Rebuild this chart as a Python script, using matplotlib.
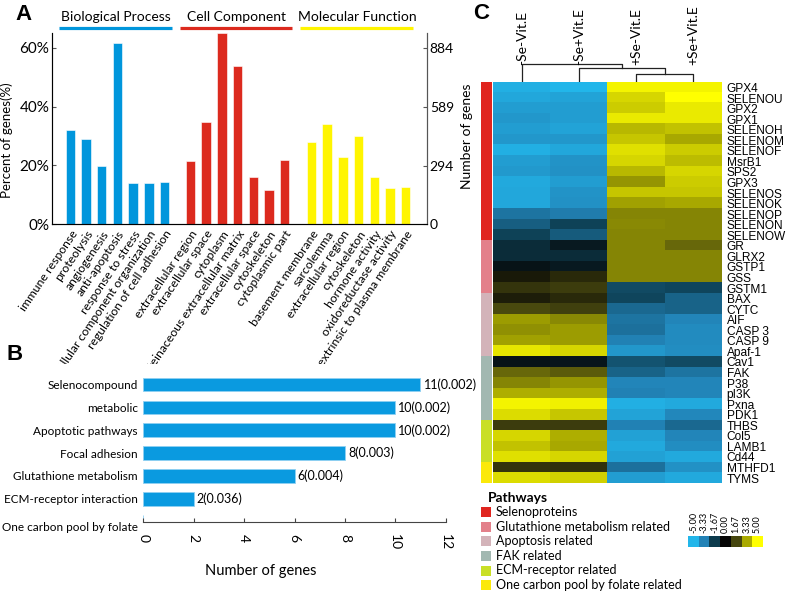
import numpy as np
import matplotlib
matplotlib.use("Agg")
import matplotlib.pyplot as plt
from matplotlib.colors import LinearSegmentedColormap, ListedColormap, Normalize
from matplotlib.patches import Rectangle

W, H = 790, 598
SANS = "Lato"
ARIAL = "Liberation Sans"

# ---- panel A : GO categories ----
go_bp = ["immune response", "proteolysis", "angiogenesis", "anti-apoptosis",
         "response to stress", "cellular component organization",
         "regulation of cell adhesion"]
go_cc = ["extracellular region", "extracellular space", "cytoplasm",
         "proteinaceous extracellular matrix", "extracellular space",
         "cytoskeleton", "cytoplasmic part"]
go_mf = ["basement membrane", "sarcolemma", "extracellular region",
         "cytoskeleton", "hormone activity", "oxidoreductase activity",
         "extrinsic to plasma membrane"]
pct_bp = [32.0, 29.1, 19.9, 61.5, 14.2, 14.2, 14.4]
pct_cc = [21.4, 34.8, 65.0, 53.9, 16.0, 11.8, 22.0]
pct_mf = [28.0, 34.0, 23.0, 29.9, 16.1, 12.2, 12.8]
go_groups = ["Biological Process", "Cell Component", "Molecular Function"]
total_genes = 1473
count_ticks = [0, 294, 589, 884]
pct_ticks = [0, 20, 40, 60]

# ---- panel B : KEGG pathways ----
kegg_terms = ["Selenocompound", "metabolic", "Apoptotic pathways", "Focal adhesion",
              "Glutathione metabolism", "ECM-receptor interaction",
              "One carbon pool by folate"]
kegg_counts = [11, 10, 10, 8, 6, 2, 0]
kegg_p = ["0.002", "0.002", "0.002", "0.003", "0.004", "0.036", ""]

# ---- panel C : heatmap ----
samples = ["-Se-Vit.E", "-Se+Vit.E", "+Se-Vit.E", "+Se+Vit.E"]
genes = ["GPX4", "SELENOU", "GPX2", "GPX1", "SELENOH", "SELENOM", "SELENOF",
         "MsrB1", "SPS2", "GPX3", "SELENOS", "SELENOK", "SELENOP", "SELENON",
         "SELENOW", "GR", "GLRX2", "GSTP1", "GSS", "GSTM1", "BAX", "CYTC", "AIF",
         "CASP 3", "CASP 9", "Apaf-1", "Cav1", "FAK", "P38", "pI3K", "Pxna",
         "PDK1", "THBS", "Col5", "LAMB1", "Cd44", "MTHFD1", "TYMS"]
z_se_m_vit_m = [-4.8, -4.5, -4.2, -4.0, -4.2, -4.0, -4.8, -4.2, -4.1, -4.6, -4.5,
                -4.5, -3.0, -2.5, -1.8, -1.2, -1.2, -0.4, 0.5, 1.2, 0.6, 1.7, 3.1,
                2.9, 3.2, 4.5, -0.4, 2.2, 2.7, 3.4, 4.8, 4.3, 1.4, 4.2, 3.8, 4.4,
                1.2, 4.3]
z_se_m_vit_p = [-5.0, -4.4, -4.2, -4.2, -4.4, -4.0, -4.5, -3.9, -3.8, -4.2, -3.9,
                -3.8, -3.2, -1.8, -2.4, -0.6, -1.2, -0.6, 0.9, 1.4, 0.9, 1.5, 2.8,
                3.1, 3.1, 4.2, -0.5, 2.0, 3.0, 3.4, 4.7, 3.9, 1.4, 3.4, 3.3, 4.2,
                1.1, 4.1]
z_se_p_vit_m = [4.8, 4.2, 4.0, 4.6, 3.6, 3.9, 4.4, 4.2, 3.6, 3.0, 3.9, 3.2, 2.7,
                2.8, 2.7, 2.7, 2.7, 2.7, 2.7, -2.0, -1.9, -2.7, -3.0, -2.9, -3.3,
                -4.0, -2.2, -2.6, -3.4, -3.3, -4.8, -4.4, -3.3, -4.3, -4.6, -4.3,
                -2.9, -4.2]
z_se_p_vit_p = [4.8, 5.0, 4.6, 4.6, 3.8, 3.3, 4.0, 3.7, 4.2, 4.0, 3.9, 3.3, 2.7,
                2.7, 2.7, 2.2, 2.7, 2.7, 2.7, -1.9, -2.6, -2.6, -3.4, -3.6, -3.6,
                -3.7, -2.0, -3.0, -3.4, -3.4, -4.6, -3.5, -2.7, -3.4, -3.7, -4.6,
                -3.8, -4.6]
dendro_links = [(2, 3, 0.45), (1, 4, 0.77), (0, 5, 1.0)]  # scipy-like linkage

pathways = ["Selenoproteins", "Glutathione metabolism related", "Apoptosis related",
            "FAK related", "ECM-receptor related", "One carbon pool by folate related"]
pathway_sizes = [15, 5, 6, 6, 4, 2]
pathway_colors = ["#e0251f", "#e3808a", "#d3b3b9", "#a2b8b1", "#c9df26", "#fbe90a"]
scale_values = [-5.00, -3.33, -1.67, 0.00, 1.67, 3.33, 5.00]
scale_colors = ["#22b6ea", "#2282b6", "#0d3c4e", "#060606", "#47470f", "#a9a900", "#ffff00"]


def box(l, t, r, b):
    return [l / W, 1 - b / H, (r - l) / W, (b - t) / H]


fig = plt.figure(figsize=(W / 100, H / 100), dpi=100)

# ================= A =================
axA = fig.add_axes(box(52, 33, 427, 224.3))
axA.set_zorder(0)
sizes = [len(go_bp), len(go_cc), len(go_mf)]
gap = 1.65
starts = [0, sizes[0] - 1 + gap, sizes[0] + sizes[1] - 2 + 2 * gap + 0.05]
colors_A = ["#0096dc", "#dc2a1e", "#fff500"]
labels_all, xs_all = [], []
for g, (names, vals, col, s) in enumerate(zip([go_bp, go_cc, go_mf],
                                               [pct_bp, pct_cc, pct_mf],
                                               colors_A, starts)):
    xs = s + np.arange(len(vals))
    axA.bar(xs, vals, width=0.6, color=col, edgecolor="white", linewidth=0.4)
    labels_all += names
    xs_all += list(xs)
    axA.plot([xs[0] - 0.7, xs[-1] + 0.47], [1.028, 1.028], color=col, lw=2.3,
             transform=axA.get_xaxis_transform(), clip_on=False, solid_capstyle="butt")
    axA.text((xs[0] + xs[-1]) / 2 - 0.1, 1.085, go_groups[g], ha="center", va="center",
             fontsize=10, family=SANS, transform=axA.get_xaxis_transform())

axA.set_xlim(-1.17, xs_all[-1] + 1.36)
axA.set_ylim(0, 65)
axA.set_yticks(pct_ticks)
axA.set_yticklabels([f"{v}%" for v in pct_ticks], fontsize=11, family=SANS)
axA.set_xticks(xs_all)
axA.set_xticklabels(labels_all, rotation=56, ha="right", va="top",
                    rotation_mode="anchor", fontsize=8.8, family=SANS)
axA.tick_params(axis="x", length=0, pad=3)
axA.tick_params(axis="y", length=3, direction="in", color="#555555", pad=2)
axA.spines["top"].set_visible(False)
for sp in ["left", "right", "bottom"]:
    axA.spines[sp].set_color("#555555")
axA.set_ylabel("Percent of genes(%)", fontsize=9.5, family=SANS)
axA.yaxis.set_label_coords(-0.105, 0.44)

axA2 = axA.twinx()
axA2.set_ylim(0, 65 * total_genes / 100)
axA2.set_yticks(count_ticks)
axA2.set_yticklabels([str(v) for v in count_ticks], fontsize=10, family=SANS)
axA2.tick_params(axis="y", length=3, direction="in", color="#555555", pad=2)
axA2.spines["top"].set_visible(False)
axA2.spines["right"].set_color("#555555")

fig.text(15 / W, 1 - 14.5 / H, "A", fontsize=16, weight="bold", family=ARIAL,
         va="center", ha="left")

# panel B sits on a white sheet that hides the tails of the long GO labels
fig.add_artist(Rectangle((0, 0), 458 / W, 1 - 364 / H, facecolor="white",
                         edgecolor="none", transform=fig.transFigure, zorder=0.5))

# ================= B =================
axB = fig.add_axes(box(143.3, 372, 445.7, 521.7))
axB.set_zorder(1)
axB.patch.set_alpha(0)
yB = np.arange(len(kegg_terms))
axB.barh(yB, kegg_counts, height=0.6, color="#0a9ae0", edgecolor="#8fd0f2", linewidth=0.6)
for y, c, p in zip(yB, kegg_counts, kegg_p):
    if p:
        axB.text(c + 0.12, y, f"{c}({p})", va="center", ha="left", fontsize=9, family=SANS)
axB.set_xlim(0, 12)
axB.set_ylim(6.0, -0.55)
axB.set_yticks(yB)
axB.set_yticklabels(kegg_terms, fontsize=8.5, family=SANS)
axB.get_yticklabels()[-1].set_va("top")
axB.tick_params(axis="y", length=0, pad=4)
axB.set_xticks(range(0, 13, 2))
axB.set_xticklabels([str(v) for v in range(0, 13, 2)], rotation=-90, fontsize=10,
                    family=SANS)
axB.tick_params(axis="x", direction="in", length=3, pad=9, color="#444444")
for sp in ["top", "right", "left"]:
    axB.spines[sp].set_visible(False)
axB.spines["bottom"].set_color("#444444")
axB.set_xlabel("Number of genes", fontsize=10.5, family=SANS)
axB.xaxis.set_label_coords(0.39, -0.28)

fig.text(7 / W, 1 - 355 / H, "B", fontsize=16, weight="bold", family=ARIAL,
         va="center", ha="left")

# ================= C =================
cmap = LinearSegmentedColormap.from_list(
    "bky", list(zip((np.array(scale_values) + 5) / 10, scale_colors)))
norm = Normalize(-5, 5)
mat = np.column_stack([z_se_m_vit_m, z_se_m_vit_p, z_se_p_vit_m, z_se_p_vit_p])

axC = fig.add_axes(box(493.3, 82.3, 721.7, 483.3))
axC.imshow(mat, cmap=cmap, norm=norm, aspect="auto", interpolation="nearest")
axC.set_yticks(range(len(genes)))
axC.set_yticklabels(genes, fontsize=8.6, family=ARIAL)
axC.yaxis.tick_right()
axC.tick_params(axis="y", length=0, pad=3.5)
axC.set_xticks([])
for sp in axC.spines.values():
    sp.set_visible(False)

axS = fig.add_axes(box(480.7, 82.3, 491, 483.3))
groups = np.repeat(np.arange(len(pathway_sizes)), pathway_sizes)
axS.imshow(groups[:, None], cmap=ListedColormap(pathway_colors), aspect="auto",
           interpolation="nearest")
axS.axis("off")

# dendrogram
axD = fig.add_axes(box(493.3, 57.3, 721.7, 82.3))
axD.set_xlim(-0.5, 3.5)
axD.set_ylim(0, 1.37)
axD.axis("off")
node_x = {i: float(i) for i in range(len(samples))}
node_h = {i: 0.0 for i in range(len(samples))}
for k, (a, b, h) in enumerate(dendro_links):
    xa, xb = node_x[a], node_x[b]
    axD.plot([xa, xa, xb, xb], [node_h[a], h, h, node_h[b]], color="#222222", lw=0.9)
    node_x[len(samples) + k] = (xa + xb) / 2
    node_h[len(samples) + k] = h
for i, s in enumerate(samples):
    axD.text(i, 0.96, s, rotation=90, ha="center", va="bottom", fontsize=10, family=SANS)

fig.text(473 / W, 1 - 13.5 / H, "C", fontsize=16, weight="bold", family=ARIAL,
         va="center", ha="left")
fig.text(467 / W, 1 - 136 / H, "Number of genes", rotation=90, ha="center",
         va="center", fontsize=10, family=SANS)

# pathway legend
fig.text(488 / W, 1 - 497.5 / H, "Pathways", fontsize=10, weight="bold", family=SANS,
         va="center", ha="left")
for i, (name, col) in enumerate(zip(pathways, pathway_colors)):
    yc = 512.3 + i * 14.55
    fig.add_artist(Rectangle((480.7 / W, 1 - (yc + 5) / H), 10 / W, 10 / H,
                             facecolor=col, edgecolor="none", transform=fig.transFigure))
    fig.text(496 / W, 1 - yc / H, name, fontsize=9, family=SANS, va="center", ha="left")

# colour scale
axK = fig.add_axes(box(688.3, 536, 762.7, 546.7))
axK.imshow(np.array(scale_values)[None, :], cmap=cmap, norm=norm, aspect="auto")
axK.set_yticks([])
axK.set_xticks(range(len(scale_values)))
axK.set_xticklabels([f"{v:.2f}" for v in scale_values], rotation=90, fontsize=6.5,
                    family=SANS)
axK.xaxis.tick_top()
axK.tick_params(axis="x", length=0, pad=2)
for sp in axK.spines.values():
    sp.set_visible(False)

fig.savefig("out.png", dpi=100)
